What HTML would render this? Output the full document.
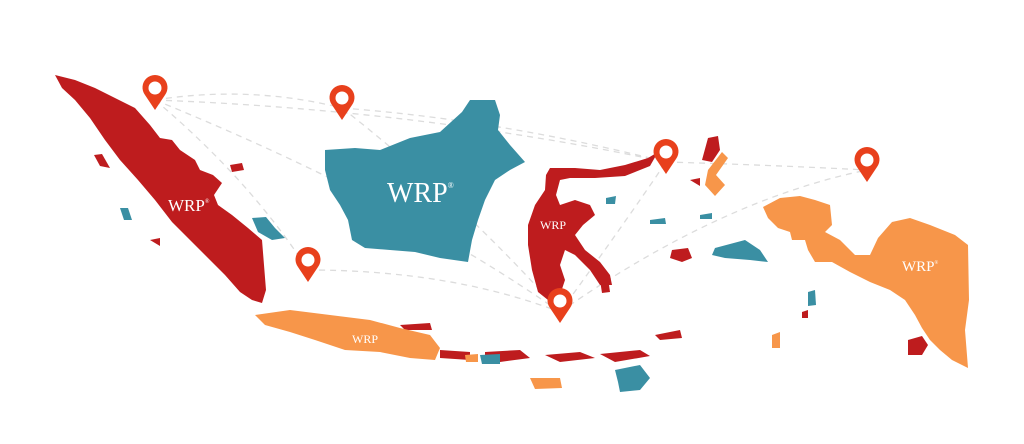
<!DOCTYPE html>
<html><head><meta charset="utf-8"><style>
html,body{margin:0;padding:0;background:#fff;}
svg{display:block;}
text{font-family:"Liberation Serif",serif;fill:#fff;}
</style></head><body>
<svg width="1024" height="444" viewBox="0 0 1024 444" xmlns="http://www.w3.org/2000/svg">
<g fill="none" stroke="#dcdcdc" stroke-width="1.3" stroke-dasharray="6,5">
<path d="M155 100 Q250 85 342 108"/>
<path d="M155 100 Q420 110 666 162"/>
<path d="M155 100 Q250 180 308 270"/>
<path d="M155 100 Q400 200 560 312"/>
<path d="M342 108 Q460 200 560 312"/>
<path d="M308 270 Q450 270 560 312"/>
<path d="M560 312 Q620 230 666 162"/>
<path d="M560 312 Q720 200 867 170"/>
<path d="M666 162 Q770 165 867 170"/>
<path d="M342 108 Q500 120 666 162"/>
</g>
<g fill="#be1c1e">
<path d="M55 75 L75 80 L95 88 L115 98 L135 108 L150 125 L160 138 L172 140 L180 150 L195 160 L200 170 L213 175 L222 183 L214 195 L218 205 L232 215 L248 228 L262 240 L264 265 L266 290 L262 303 L252 300 L240 292 L225 275 L208 258 L190 240 L172 222 L155 200 L138 180 L120 160 L105 140 L90 118 L75 100 L62 88 Z"/>
<path d="M550 168 L575 168 L600 170 L625 165 L648 158 L658 152 L650 166 L625 176 L595 178 L570 178 L560 180 L556 195 L560 205 L575 200 L590 205 L595 215 L583 225 L575 235 L585 250 L600 262 L610 275 L612 285 L600 285 L590 270 L575 255 L565 250 L560 265 L565 280 L560 295 L548 300 L538 292 L532 270 L528 245 L528 225 L535 205 L545 190 L546 175 Z"/>
<path d="M708 138 L718 136 L720 150 L712 162 L702 160 Z"/>
<path d="M672 250 L688 248 L692 258 L682 262 L670 258 Z"/>
<path d="M440 350 L470 352 L470 360 L440 358 Z"/>
<path d="M485 352 L520 350 L530 358 L500 362 L485 358 Z"/>
<path d="M545 355 L580 352 L595 358 L560 362 Z"/>
<path d="M600 354 L640 350 L650 356 L615 362 Z"/>
<path d="M400 325 L430 323 L432 330 L405 330 Z"/>
<path d="M908 340 L922 336 L928 345 L922 355 L908 355 Z"/>
<path d="M230 165 L242 163 L244 170 L232 172 Z"/>
<path d="M94 155 L102 154 L110 168 L100 166 Z"/>
<path d="M150 240 L160 238 L160 246 Z"/>
<path d="M600 280 L608 278 L610 292 L602 293 Z"/>
<path d="M690 180 L700 178 L700 186 Z"/>
<path d="M655 335 L680 330 L682 338 L660 340 Z"/>
<path d="M802 312 L808 310 L808 318 L802 318 Z"/>
</g>
<g fill="#3a8fa3">
<path d="M325 150 L355 148 L380 150 L410 138 L440 132 L462 112 L470 100 L495 100 L500 115 L498 130 L510 145 L525 162 L510 170 L495 180 L485 200 L478 220 L472 240 L468 262 L440 258 L415 252 L390 250 L365 248 L352 240 L348 220 L340 205 L330 190 L325 170 Z"/>
<path d="M715 248 L745 240 L760 250 L768 262 L750 260 L725 258 L712 255 Z"/>
<path d="M615 370 L640 365 L650 378 L640 390 L620 392 L618 382 Z"/>
<path d="M252 218 L266 217 L275 228 L285 238 L272 240 L258 232 Z"/>
<path d="M120 208 L128 208 L132 220 L124 220 Z"/>
<path d="M650 220 L665 218 L666 224 L650 224 Z"/>
<path d="M700 215 L712 213 L712 219 L700 219 Z"/>
<path d="M480 355 L500 354 L500 364 L482 364 Z"/>
<path d="M808 292 L815 290 L816 305 L808 306 Z"/>
<path d="M606 198 L616 196 L615 204 L606 204 Z"/>
</g>
<g fill="#f7964a">
<path d="M255 315 L290 310 L330 315 L370 320 L400 328 L430 335 L440 348 L435 360 L410 358 L380 352 L345 350 L315 340 L290 332 L265 325 Z"/>
<path d="M763 207 L780 198 L800 196 L815 200 L830 205 L832 225 L825 232 L840 240 L855 255 L870 255 L878 238 L892 222 L910 218 L930 225 L955 235 L968 245 L969 300 L965 330 L968 368 L952 360 L940 350 L930 340 L922 328 L915 315 L905 300 L890 290 L870 282 L850 272 L832 262 L815 262 L808 250 L805 240 L792 240 L790 232 L778 228 L768 218 Z"/>
<path d="M708 170 L722 152 L728 158 L716 175 L725 185 L715 196 L705 185 Z"/>
<path d="M530 378 L560 378 L562 388 L535 389 Z"/>
<path d="M465 355 L478 354 L478 362 L466 362 Z"/>
<path d="M772 335 L780 332 L780 348 L772 348 Z"/>
</g>
<text x="168" y="211" font-size="17">WRP<tspan font-size="6" dy="-8">®</tspan></text>
<text x="387" y="202" font-size="28">WRP<tspan font-size="8" dy="-14">®</tspan></text>
<text x="540" y="229" font-size="12">WRP</text>
<text x="352" y="343" font-size="12">WRP</text>
<text x="902" y="271" font-size="15">WRP<tspan font-size="5" dy="-7">®</tspan></text>
<g>
<g transform="translate(155,88)"><path d="M0 22 L-10 7 A12.5 12.5 0 1 1 10 7 Z" fill="#e8401c"/><circle r="6.5" fill="#fff"/></g>
<g transform="translate(342,98)"><path d="M0 22 L-10 7 A12.5 12.5 0 1 1 10 7 Z" fill="#e8401c"/><circle r="6.5" fill="#fff"/></g>
<g transform="translate(308,260)"><path d="M0 22 L-10 7 A12.5 12.5 0 1 1 10 7 Z" fill="#e8401c"/><circle r="6.5" fill="#fff"/></g>
<g transform="translate(666,152)"><path d="M0 22 L-10 7 A12.5 12.5 0 1 1 10 7 Z" fill="#e8401c"/><circle r="6.5" fill="#fff"/></g>
<g transform="translate(867,160)"><path d="M0 22 L-10 7 A12.5 12.5 0 1 1 10 7 Z" fill="#e8401c"/><circle r="6.5" fill="#fff"/></g>
<g transform="translate(560,301)"><path d="M0 22 L-10 7 A12.5 12.5 0 1 1 10 7 Z" fill="#e8401c"/><circle r="6.5" fill="#fff"/></g>
</g>
</svg>
</body></html>
